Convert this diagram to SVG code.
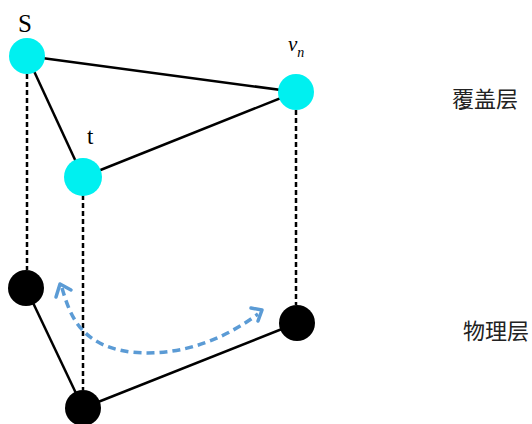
<svg xmlns="http://www.w3.org/2000/svg" width="532" height="424" viewBox="0 0 532 424">
<style>
.solid{stroke:#000;stroke-width:2.5;fill:none}
.dash{stroke:#000;stroke-width:2.5;stroke-dasharray:5 3;fill:none}
.over{fill:#00f0f0}
.phys{fill:#000}
.lbl{font-family:"Liberation Serif",serif;fill:#000}
.cjk{font-family:"Noto Sans CJK SC",sans-serif;font-size:22px;fill:#222}
.blue{stroke:#5b9bd5;stroke-width:3.5;fill:none;stroke-dasharray:8 5}
.bluehead{stroke:#5b9bd5;stroke-width:3.5;fill:none;stroke-linecap:round;stroke-linejoin:round}
</style>
<g id="connectors">
<line class="solid" x1="27" y1="56" x2="296" y2="92"/>
<line class="solid" x1="27" y1="56" x2="83" y2="177"/>
<line class="solid" x1="83" y1="177" x2="296" y2="92"/>
<line class="solid" x1="26" y1="288" x2="83" y2="408"/>
<line class="solid" x1="83" y1="408" x2="297" y2="323"/>
<line class="dash" x1="27" y1="74" x2="27" y2="270"/>
<line class="dash" x1="83" y1="195" x2="83" y2="390"/>
<line class="dash" x1="296" y1="110" x2="296" y2="305"/>
<path class="blue" d="M62,288 C70,315 80,345 130,352 C185,358 230,335 258,314"/>
<polyline class="bluehead" points="56,297 60,284 71,290"/>
<polyline class="bluehead" points="251,308 262,310 258,321"/>
</g>
<g id="node-s">
<circle class="over" cx="27" cy="56" r="18"/>
<text class="lbl" x="18" y="32" font-size="25">S</text>
</g>
<g id="node-vn">
<circle class="over" cx="296" cy="92" r="18"/>
<text class="lbl" x="288" y="51" font-size="21" font-style="italic">v<tspan font-size="14" dy="6">n</tspan></text>
</g>
<g id="node-t">
<circle class="over" cx="83" cy="177" r="19"/>
<text class="lbl" x="87" y="144" font-size="23">t</text>
</g>
<g id="node-p1">
<circle class="phys" cx="26" cy="288" r="18"/>
</g>
<g id="node-p2">
<circle class="phys" cx="83" cy="408" r="18"/>
</g>
<g id="node-p3">
<circle class="phys" cx="297" cy="323" r="18"/>
</g>
<g id="label-overlay">
<text class="cjk" x="452" y="107">覆盖层</text>
</g>
<g id="label-physical">
<text class="cjk" x="463" y="339">物理层</text>
</g>
</svg>
